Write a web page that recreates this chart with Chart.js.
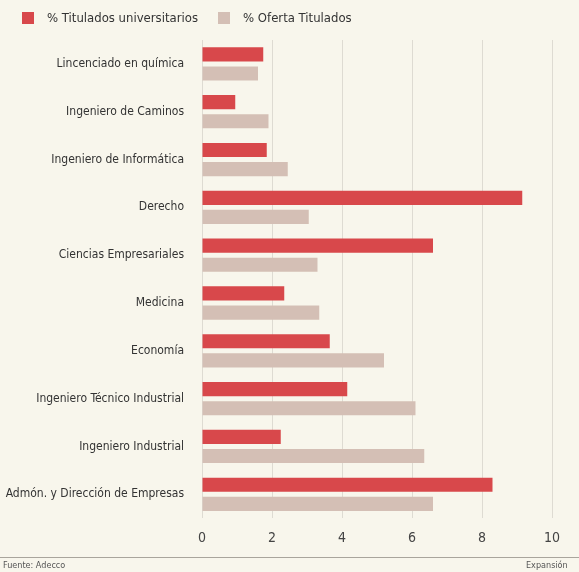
<!DOCTYPE html>
<html>
<head>
<meta charset="utf-8">
<script src="https://cdn.jsdelivr.net/npm/chart.js@4"></script>
<style>
  html, body { margin: 0; padding: 0; background: #f8f6ec; }
  body { font-family: "DejaVu Sans Condensed", sans-serif; }
  #wrap { position: absolute; left: 0; top: 0; width: 579px; height: 560px; }
  .key { position: absolute; top: 10px; font-size: 13px; color: #333; line-height: 16px; }
  .key i { display: inline-block; width: 12px; height: 12px; vertical-align: -2px; margin-right: 13px; }
  #foot { position: absolute; left: 0; top: 557px; width: 579px; border-top: 1px solid #a9a59c;
          font-size: 9px; color: #555; }
  #foot .l { position: absolute; left: 3px; top: 2px; }
  #foot .r { position: absolute; left: 526px; top: 2px; }
</style>
</head>
<body>
<div id="wrap"><canvas id="bars"></canvas></div>
<div class="key" style="left:22px"><i style="background:#d8484b"></i>% Titulados universitarios</div>
<div class="key" style="left:218px"><i style="background:#d4bfb5"></i>% Oferta Titulados</div>
<div id="foot"><span class="l">Fuente: Adecco</span><span class="r">Expansión</span></div>
<script>
let categories = ["Lincenciado en química", "Ingeniero de Caminos", "Ingeniero de Informática", "Derecho",
  "Ciencias Empresariales", "Medicina", "Economía", "Ingeniero Técnico Industrial",
  "Ingeniero Industrial", "Admón. y Dirección de Empresas"];
let titulados = [1.75, 0.95, 1.85, 9.15, 6.6, 2.35, 3.65, 4.15, 2.25, 8.3];
let oferta = [1.6, 1.9, 2.45, 3.05, 3.3, 3.35, 5.2, 6.1, 6.35, 6.6];
let xTicks = [0, 2, 4, 6, 8, 10];

let font = "'DejaVu Sans Condensed', sans-serif";

new Chart(document.getElementById("bars"), {
  type: 'bar',
  data: {
    labels: categories,
    datasets: [
      { label: "% Titulados universitarios", backgroundColor: "#d8484b", data: titulados },
      { label: "% Oferta Titulados", backgroundColor: "#d4bfb5", data: oferta }
    ]
  },
  options: {
    indexAxis: 'y',
    responsive: true,
    maintainAspectRatio: false,
    animation: false,
    categoryPercentage: 0.8,
    barPercentage: 0.74,
    layout: { padding: { left: 0, right: 27, top: 40, bottom: 1 } },
    plugins: {
      legend: { display: false },
      tooltip: { enabled: false }
    },
    scales: {
      x: {
        min: 0, max: 10,
        afterBuildTicks: function(scale) { scale.ticks = xTicks.map(v => ({ value: v })); },
        grid: { color: '#dedbd2', drawTicks: false },
        border: { display: false },
        ticks: { color: '#444', padding: 12, font: { family: font, size: 14 } }
      },
      y: {
        afterFit: function(scale) { scale.width = 202; },
        grid: { display: false },
        border: { display: false },
        ticks: { color: '#333', padding: 10, font: { family: font, size: 12 } }
      }
    }
  }
});
</script>
</body>
</html>
